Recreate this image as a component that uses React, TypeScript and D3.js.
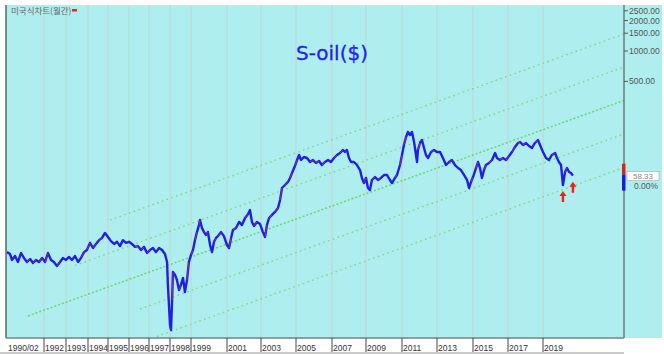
import React from "react";
import * as d3 from "d3";

// ---- data ----
const tickYears = [1990.083, 1992, 1993, 1994, 1995, 1996, 1997, 1998, 1999, 2001, 2003, 2005, 2007, 2009, 2011, 2013, 2015, 2017, 2019];
const tickLabels = ["1990/02", "1992", "1993", "1994", "1995", "1996", "1997", "1998", "1999", "2001", "2003", "2005", "2007", "2009", "2011", "2013", "2015", "2017", "2019"];
const priceTicks = [500, 1000, 1500, 2000, 2500];

const years = [
  1990.08, 1990.24, 1990.34, 1990.5, 1990.65, 1990.81, 1990.96, 1991.12, 1991.28, 1991.43, 1991.59, 1991.74, 1991.9,
  1992.05, 1992.18, 1992.32, 1992.45, 1992.59, 1992.73, 1992.86, 1993.0, 1993.14, 1993.27, 1993.41, 1993.55, 1993.68,
  1993.82, 1993.95, 1994.1, 1994.25, 1994.4, 1994.55, 1994.7, 1994.85, 1995.0, 1995.14, 1995.29, 1995.43, 1995.57,
  1995.71, 1995.86, 1996.0, 1996.15, 1996.3, 1996.45, 1996.6, 1996.75, 1996.9, 1997.05, 1997.19, 1997.33, 1997.48,
  1997.62, 1997.76, 1997.86, 1997.9, 1997.95, 1998.0, 1998.05, 1998.1, 1998.14, 1998.24, 1998.33, 1998.43, 1998.52,
  1998.62, 1998.71, 1998.81, 1998.9, 1999.0, 1999.11, 1999.22, 1999.33, 1999.44, 1999.5, 1999.61, 1999.72, 1999.83,
  1999.94, 2000.06, 2000.17, 2000.28, 2000.39, 2000.5, 2000.67, 2000.83, 2001.0, 2001.12, 2001.24, 2001.35, 2001.53,
  2001.71, 2001.88, 2002.06, 2002.24, 2002.35, 2002.47, 2002.59, 2002.76, 2002.94, 2003.11, 2003.23, 2003.34, 2003.46,
  2003.63, 2003.8, 2003.97, 2004.09, 2004.2, 2004.37, 2004.54, 2004.66, 2004.77, 2004.94, 2005.06, 2005.17, 2005.28,
  2005.44, 2005.61, 2005.78, 2005.94, 2006.11, 2006.28, 2006.44, 2006.61, 2006.78, 2006.94, 2007.12, 2007.29, 2007.47,
  2007.65, 2007.76, 2007.88, 2008.0, 2008.12, 2008.29, 2008.47, 2008.65, 2008.76, 2008.88, 2009.0, 2009.11, 2009.22,
  2009.33, 2009.5, 2009.67, 2009.83, 2010.0, 2010.17, 2010.33, 2010.44, 2010.61, 2010.72, 2010.89, 2011.0, 2011.11,
  2011.23, 2011.34, 2011.46, 2011.57, 2011.69, 2011.8, 2011.86, 2011.91, 2012.03, 2012.14, 2012.26, 2012.37, 2012.49,
  2012.66, 2012.83, 2013.0, 2013.17, 2013.33, 2013.5, 2013.67, 2013.83, 2014.0, 2014.17, 2014.33, 2014.5, 2014.67,
  2014.78, 2014.89, 2015.0, 2015.17, 2015.29, 2015.4, 2015.51, 2015.63, 2015.74, 2015.91, 2016.09, 2016.26, 2016.37,
  2016.54, 2016.71, 2016.89, 2017.06, 2017.23, 2017.4, 2017.57, 2017.69, 2017.86, 2018.03, 2018.2, 2018.37, 2018.54,
  2018.71, 2018.83, 2019.0, 2019.17, 2019.34, 2019.51, 2019.69, 2019.8, 2019.91, 2020.03, 2020.14, 2020.26, 2020.37,
  2020.49, 2020.6, 2020.71,
];
const prices = [
  10.2, 9.77, 8.53, 9.34, 8.15, 10.0, 8.93, 8.15, 8.72, 7.96, 8.53, 8.15, 8.93,
  8.15, 10.0, 8.53, 8.15, 7.43, 8.15, 8.93, 8.53, 9.13, 8.53, 9.34, 8.15, 8.93,
  10.2, 10.7, 12.6, 11.2, 12.3, 13.4, 14.1, 15.8, 14.4, 13.1, 12.3, 12.9, 11.7,
  13.4, 12.6, 12.9, 12.3, 11.5, 11.7, 10.7, 11.5, 10.0, 10.7, 11.2, 10.2, 11.2,
  10.7, 9.77, 8.15, 4.82, 3.06, 1.94, 1.73, 3.42, 6.48, 6.06, 5.4, 4.3, 4.82,
  5.66, 4.11, 5.4, 8.15, 9.55, 10.7, 13.4, 16.1, 18.9, 21.2, 17.7, 16.1, 15.1,
  16.1, 12.0, 10.2, 12.9, 14.1, 14.7, 16.1, 14.7, 12.0, 11.2, 14.1, 16.9, 17.7,
  20.3, 18.9, 22.2, 24.3, 26.6, 20.3, 18.5, 20.3, 19.4, 16.1, 14.4, 18.9, 22.2,
  23.8, 25.5, 27.9, 33.5, 44.0, 47.1, 50.5, 55.3, 61.9, 72.7, 83.3, 93.4, 83.3,
  89.2, 87.2, 79.6, 83.3, 77.8, 81.5, 74.3, 79.6, 83.3, 79.6, 87.2, 93.4, 97.7,
  104.7, 100, 104.7, 87.2, 79.6, 79.6, 74.3, 66.3, 55.3, 49.3, 55.3, 44.0, 42.0,
  52.8, 56.5, 52.8, 55.3, 59.2, 59.2, 52.8, 49.3, 55.3, 59.2, 74.3, 93.4, 117.3,
  140.8, 157.8, 147.4, 157.8, 125.6, 93.4, 79.6, 104.7, 122.8, 131.5, 109.6, 93.4, 87.2,
  100, 104.7, 100, 100, 87.2, 74.3, 79.6, 83.3, 74.3, 69.4, 66.3, 59.2, 52.8,
  44.0, 50.5, 56.5, 69.4, 79.6, 69.4, 55.3, 66.3, 74.3, 77.8, 83.3, 97.7, 87.2,
  83.3, 87.2, 83.3, 91.3, 100, 112.1, 122.8, 125.6, 117.3, 122.8, 114.7, 109.6, 122.8,
  131.5, 117.3, 100, 87.2, 83.3, 93.4, 97.7, 87.2, 79.6, 74.3, 47.1, 63.4, 69.4,
  63.4, 61.9, 58.33,
];

const lastPrice = 58.33;
const changePct = "0.00%";
const arrowYears = [2020.14, 2020.71];

// trend channel (5 parallel lines)
const channelStartYears = [1995.1, 1993.41, 1991.17, 1996.55, 1997.38];
const channelStartValues = [21.2, 7.52, 2.38, 2.79, 1.49];
const channelEndYear = 2023.63;
const channelEndValues = [1473, 694, 324, 151, 70.2];

const titleText = "S-oil($)";
const chartLabel = "미국식차트(월간)";

// ---- layout ----
const W = 664;
const H = 355;
const plotL = 6;
const plotR = 624;
const plotT = 5;
const plotB = 338;

const x = d3
  .scaleLinear()
  .domain(tickYears)
  .range([7, 44, 66, 88, 108, 129, 149, 170, 191, 227, 261, 296, 332, 366, 402, 437, 473, 508, 543]);
const y = d3.scaleLog().domain([1.44, 2853]).range([plotB, plotT]);

const fmt = d3.format(".2f");
const narrow = "'Liberation Sans Narrow', 'Liberation Sans', Arial, sans-serif";

export default function App() {
  const pts: [number, number][] = years.map((yr, i) => [x(yr), y(prices[i])]);
  const line = d3.line<[number, number]>().x((d) => d[0]).y((d) => d[1]);
  const mainPath = line(pts) || "";

  const upSegs: string[] = [];
  for (let i = 1; i < pts.length; i++) {
    if (prices[i] > prices[i - 1] && i % 2 === 0) {
      upSegs.push(`M${pts[i - 1][0]},${pts[i - 1][1]}L${pts[i][0]},${pts[i][1]}`);
    }
  }

  const lastY = y(lastPrice);

  return (
    <div style={{ position: "absolute", left: 0, top: 0 }}>
      <svg width={W} height={H} style={{ display: "block" }}>
        <rect x={0} y={0} width={W} height={H} fill="#ffffff" />
        <rect x={plotL} y={plotT} width={662 - plotL} height={plotB - plotT} fill="#afeeee" />

        {/* vertical grid */}
        {tickYears.slice(1).map((t, i) => (
          <line key={"g" + i} x1={x(t)} x2={x(t)} y1={plotT} y2={plotB} stroke="#c4d2d2" strokeWidth={1} />
        ))}

        {/* channel lines */}
        {channelStartYears.map((sy, i) => (
          <line
            key={"c" + i}
            x1={x(sy)}
            y1={y(channelStartValues[i])}
            x2={x(channelEndYear)}
            y2={y(channelEndValues[i])}
            stroke={i === 2 ? "#6cd66c" : "#7ad87a"}
            strokeWidth={i === 2 ? 1.5 : 1.4}
            strokeDasharray={i === 2 ? "2,2" : "1.6,3.4"}
          />
        ))}

        {/* price */}
        <path d={mainPath} fill="none" stroke="#1f1fe6" strokeWidth={2.4} strokeLinejoin="round" />
        <path d={upSegs.join("")} fill="none" stroke="#e8363a" strokeWidth={0.7} strokeOpacity={0.8} />

        {/* arrows */}
        {arrowYears.map((ay, i) => {
          const idx = years.indexOf(ay);
          const ax = x(ay);
          const top = y(prices[idx]) + 6;
          return (
            <path
              key={"a" + i}
              d={`M${ax},${top}L${ax + 3.5},${top + 5}L${ax + 1.2},${top + 5}L${ax + 1.2},${top + 11}L${ax - 1.2},${top + 11}L${ax - 1.2},${top + 5}L${ax - 3.5},${top + 5}Z`}
              fill="#ff1a1a"
            />
          );
        })}

        {/* frame */}
        <line x1={plotL} x2={plotL} y1={plotT} y2={plotB} stroke="#566868" strokeWidth={1.5} />
        <line x1={plotL} x2={plotR} y1={plotB} y2={plotB} stroke="#6d8585" strokeWidth={1.5} />
        <line x1={plotR} x2={plotR} y1={plotT} y2={plotB} stroke="#6d8585" strokeWidth={1.6} />

        {/* top-left label */}
        <text x={11} y={14} fontSize={8.5} fill="#666" fontFamily="'Noto Sans CJK KR', sans-serif">
          {chartLabel}
        </text>
        <rect x={72} y={9} width={5} height={2.5} fill="#ff2020" />

        {/* title */}
        <text
          x={296}
          y={59.5}
          fontSize={20}
          fill="#2222e8"
          stroke="#2222e8"
          strokeWidth={0.3}
          fontFamily="'DejaVu Sans', sans-serif"
        >
          {titleText}
        </text>

        {/* right axis */}
        {priceTicks.map((v) => (
          <g key={"p" + v}>
            <line x1={plotR} x2={plotR + 4} y1={y(v)} y2={y(v)} stroke="#555" strokeWidth={1} />
            <text x={plotR + 5} y={y(v) + 3} fontSize={8.5} fill="#555" fontFamily={narrow}>
              {fmt(v)}
            </text>
          </g>
        ))}

        {/* last price tag */}
        <rect x={plotR - 2} y={lastY - 12} width={3.5} height={11} fill="#e02020" />
        <rect x={plotR - 2} y={lastY - 1} width={3.5} height={16} fill="#1a1ae0" />
        <rect x={plotR + 3} y={lastY - 4} width={32} height={9} fill="#ffffff" stroke="#999" strokeWidth={0.5} />
        <text x={plotR + 19} y={lastY + 3.5} fontSize={8} fill="#888" textAnchor="middle" fontFamily={narrow}>
          {fmt(lastPrice)}
        </text>
        <text x={plotR + 22} y={lastY + 13} fontSize={8.5} fill="#555" textAnchor="middle" fontFamily={narrow}>
          {changePct}
        </text>

        {/* bottom axis */}
        <line x1={0} x2={plotR} y1={353} y2={353} stroke="#999" strokeWidth={1} />
        {tickYears.map((t, i) => (
          <g key={"t" + i}>
            {i > 0 && <line x1={x(t)} x2={x(t)} y1={plotB} y2={352} stroke="#444" strokeWidth={1} />}
            <text x={x(t) + 1} y={350.5} fontSize={8.5} fill="#333" fontFamily={narrow}>
              {tickLabels[i]}
            </text>
          </g>
        ))}
      </svg>
    </div>
  );
}
